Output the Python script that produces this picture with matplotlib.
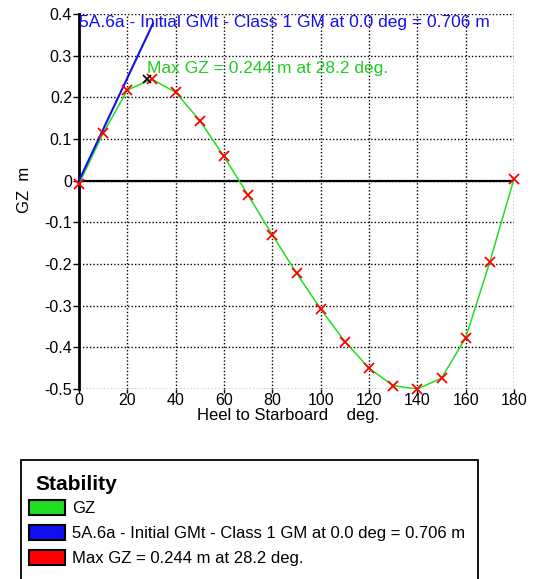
import numpy as np
import matplotlib
matplotlib.use("Agg")
import matplotlib.pyplot as plt
from matplotlib.patches import Patch, Rectangle

plt.rcParams['font.family'] = ['Liberation Sans', 'DejaVu Sans']
plt.rcParams['axes.unicode_minus'] = False

# GZ curve (heel angle deg, GZ m)
heel = [0, 10, 20, 30, 40, 50, 60, 70, 80, 90, 100, 110, 120, 130, 140, 150, 160, 170, 180]
gz = [-0.008, 0.114, 0.217, 0.244, 0.212, 0.144, 0.058, -0.035, -0.130, -0.222,
      -0.308, -0.386, -0.450, -0.492, -0.500, -0.474, -0.377, -0.195, 0.005]

# initial GM line
gm_heel = [0, 30.6]
gm_value = 0.706
max_heel = 28.2
max_gz = 0.244

yticks = [-0.5, -0.4, -0.3, -0.2, -0.1, 0, 0.1, 0.2, 0.3, 0.4]
xticks = [0, 20, 40, 60, 80, 100, 120, 140, 160, 180]

gm_label = "5A.6a - Initial GMt - Class 1 GM at 0.0 deg = 0.706 m"
max_label = "Max GZ = 0.244 m at 28.2 deg."

fig = plt.figure(figsize=(5.36, 5.79), dpi=100)
ax = fig.add_axes([79 / 536, 1 - 389 / 579, 435 / 536, 375 / 579])

ax.set_xlim(0, 180)
ax.set_ylim(-0.5, 0.4)
ax.set_xticks(xticks)
ax.set_yticks(yticks)
ax.set_yticklabels(["0" if v == 0 else f"{v:.1f}" for v in yticks])
ax.tick_params(labelsize=11.5, length=4, width=1, direction='out', pad=1)
ax.tick_params(axis='x', length=3, pad=0)
ax.grid(True, color='black', linestyle=(0, (1, 1.5)), linewidth=1)
for s in ['top', 'right', 'bottom']:
    ax.spines[s].set_visible(False)
ax.spines['left'].set_linewidth(2)
ax.axhline(0, color='black', linewidth=1.6, zorder=2)

ax.plot(heel, gz, color='#22dd22', linewidth=1.1, zorder=3)
gm_y = [np.deg2rad(a) * gm_value for a in gm_heel]
ax.plot(gm_heel, gm_y, color='#1010ee', linewidth=1.5, zorder=4)
ax.plot(heel, gz, linestyle='none', marker='x', color='red', markersize=7,
        markeredgewidth=1.3, zorder=5, clip_on=False)
ax.plot([max_heel], [max_gz], linestyle='none', marker='x', color='black',
        markersize=6, markeredgewidth=1.2, zorder=5)

ax.text(0, 0.38, gm_label, color='#1010ee', fontsize=12.5, va='center', ha='left')
ax.text(max_heel, 0.269, max_label, color='#22cc22', fontsize=12.5, va='center', ha='left')

ax.set_ylabel("GZ  m", fontsize=12)
ax.yaxis.set_label_coords(-0.108, 0.531)
ax.set_xlabel("Heel to Starboard    deg.", fontsize=12)
ax.xaxis.set_label_coords(0.4816, -0.05)

# legend box
fig.add_artist(Rectangle((21 / 536, -0.05), 457 / 536, 0.05 + 1 - 460 / 579,
                         transform=fig.transFigure, fill=False,
                         edgecolor='black', linewidth=1.3))
fig.text(35 / 536, 1 - 484 / 579, "Stability", fontsize=15, fontweight='bold',
         va='center', ha='left')
handles = [Patch(facecolor='#22dd22', edgecolor='black', linewidth=1.5),
           Patch(facecolor='#1010ee', edgecolor='black', linewidth=1.5),
           Patch(facecolor='red', edgecolor='black', linewidth=1.5)]
leg = fig.legend(handles, ["GZ", gm_label, max_label], loc='upper left',
                 bbox_to_anchor=(22 / 536, 1 - 493 / 579), frameon=False,
                 fontsize=12, handlelength=2.16, handleheight=1.0,
                 labelspacing=0.53, handletextpad=0.45, borderaxespad=0)

fig.savefig("out.png", dpi=100)
